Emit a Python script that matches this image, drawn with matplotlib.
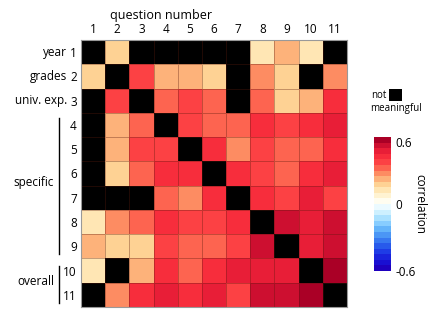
import numpy as np
import matplotlib
matplotlib.use("Agg")
import matplotlib.pyplot as plt
from matplotlib.colors import ListedColormap, BoundaryNorm
from matplotlib.patches import Rectangle

plt.rcParams['font.family'] = ['Open Sans', 'DejaVu Sans']

nan = np.nan

# correlation between survey questions (nan = not meaningful)
corr = np.array([
    [nan, 0.17, nan, nan, nan, nan, nan, 0.12, 0.22, 0.12, nan],
    [0.17, nan, 0.37, 0.22, 0.22, 0.17, nan, 0.27, 0.17, nan, 0.27],
    [nan, 0.37, nan, 0.32, 0.37, 0.32, nan, 0.32, 0.17, 0.22, 0.42],
    [nan, 0.22, 0.32, nan, 0.37, 0.32, 0.32, 0.42, 0.37, 0.42, 0.47],
    [nan, 0.22, 0.37, 0.37, nan, 0.42, 0.27, 0.37, 0.32, 0.32, 0.42],
    [nan, 0.17, 0.32, 0.42, 0.42, nan, 0.42, 0.37, 0.32, 0.42, 0.47],
    [nan, nan, nan, 0.32, 0.27, 0.42, nan, 0.42, 0.37, 0.47, 0.37],
    [0.12, 0.27, 0.32, 0.42, 0.37, 0.37, 0.42, nan, 0.52, 0.47, 0.52],
    [0.22, 0.17, 0.17, 0.37, 0.32, 0.32, 0.37, 0.52, nan, 0.47, 0.52],
    [0.12, nan, 0.22, 0.42, 0.32, 0.42, 0.47, 0.47, 0.47, nan, 0.57],
    [nan, 0.27, 0.42, 0.47, 0.42, 0.47, 0.37, 0.52, 0.52, 0.57, nan],
])
questions = [str(i) for i in range(1, 12)]
single_labels = {0: "year", 1: "grades", 2: "univ. exp."}

# 24-step diverging palette, blue (-0.6) -> white (0) -> dark red (0.6)
band_colors = [
    (30, 0, 190), (25, 15, 210), (25, 35, 220), (30, 60, 230),
    (40, 90, 235), (55, 120, 240), (75, 150, 245), (100, 180, 250),
    (135, 205, 255), (170, 225, 255), (205, 240, 255), (235, 250, 255),
    (255, 253, 240), (255, 243, 210), (255, 230, 180), (254, 210, 148),
    (253, 178, 122), (253, 140, 98), (253, 100, 80), (252, 65, 68),
    (247, 45, 60), (232, 30, 55), (205, 15, 48), (170, 0, 38),
]
cmap = ListedColormap([tuple(c / 255 for c in rgb) for rgb in band_colors])
cmap.set_bad("black")
bounds = np.linspace(-0.6, 0.6, 25)
norm = BoundaryNorm(bounds, cmap.N)

fig = plt.figure(figsize=(4.38, 3.26), dpi=100)
ax = fig.add_axes([81 / 438, 1 - 307 / 326, 266 / 438, 267 / 326])

n = len(questions)
ax.pcolormesh(np.arange(n + 1), np.arange(n + 1), np.ma.masked_invalid(corr),
              cmap=cmap, norm=norm, edgecolor=(0.35, 0.1, 0.05, 0.35), linewidth=0.5)
ax.set_xlim(0, n)
ax.set_ylim(n, 0)

ax.xaxis.tick_top()
ax.set_xticks(np.arange(n) + 0.5)
ax.set_xticklabels(questions, fontsize=8.5)
ax.set_yticks(np.arange(n) + 0.5)
ax.set_yticklabels(questions, fontsize=8.5)
ax.tick_params(length=0, pad=3)
for s in ax.spines.values():
    s.set_color("#999999")
    s.set_linewidth(0.8)

fig.text(161 / 438, 1 - 15 / 326, "question number", fontsize=9,
         ha="center", va="center")

# row group labels on the left
for r, name in single_labels.items():
    ax.text(-0.56, r + 0.5, name, ha="right", va="center", fontsize=8.5)
ax.plot([-0.9, -0.9], [3.2, 8.8], color="black", lw=1, clip_on=False)
ax.text(-1.12, 5.86, "specific", ha="right", va="center", fontsize=8.5)
ax.plot([-0.9, -0.9], [9.3, 10.83], color="black", lw=1, clip_on=False)
ax.text(-1.12, 9.97, "overall", ha="right", va="center", fontsize=8.5)

# colorbar
cax = fig.add_axes([374 / 438, 1 - 271 / 326, 17 / 438, 134 / 326])
sm = plt.cm.ScalarMappable(cmap=cmap, norm=norm)
cb = fig.colorbar(sm, cax=cax, ticks=[-0.6, 0, 0.6])
cb.ax.minorticks_off()
cb.ax.set_yticklabels(["-0.6", "0", "0.6"], fontsize=8.5)
cb.ax.get_yticklabels()[2].set_va("top")
cb.ax.tick_params(length=0, pad=3)
cb.outline.set_visible(False)
cb.set_label("correlation", rotation=270, fontsize=8.5, labelpad=8)

# "not meaningful" key
fig.text(371 / 438, 1 - 95 / 326, "not", fontsize=7, va="center")
fig.patches.append(Rectangle((389 / 438, 1 - 101 / 326), 13 / 438, 12 / 326,
                             transform=fig.transFigure, facecolor="black"))
fig.text(370 / 438, 1 - 108 / 326, "meaningful", fontsize=7, va="center")

fig.savefig("out.png", dpi=100)
